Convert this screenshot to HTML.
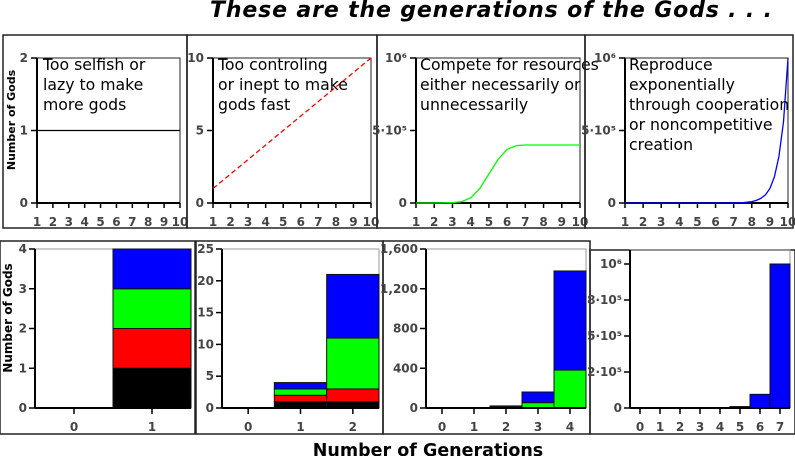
<!DOCTYPE html>
<html><head><meta charset="utf-8"><style>
html,body{margin:0;padding:0;background:#fff;}
svg{display:block;font-family:"DejaVu Sans","Liberation Sans",sans-serif;}
.tk{font-size:12px;font-weight:bold;fill:#444;}
.ann{font-size:15.7px;fill:#000;}
</style></head><body>
<svg id="c" width="795" height="456" viewBox="0 0 795 456" xmlns="http://www.w3.org/2000/svg">
<text x="210" y="17" font-size="22" font-weight="bold" font-style="italic" textLength="562">These are the generations of the Gods . . .</text>
<text x="428" y="456" font-size="17.5" font-weight="bold" text-anchor="middle">Number of Generations</text>
<text transform="translate(15,120) rotate(-90)" font-size="11" font-weight="bold" text-anchor="middle">Number of Gods</text>
<text transform="translate(12,318) rotate(-90)" font-size="12" font-weight="bold" text-anchor="middle">Number of Gods</text>
<g id="g"></g>
</svg>
<script>
// ---- top row line chart data ----
const lineX = [1,1.5,2,2.5,3,3.5,4,4.5,5,5.5,6,6.5,7,7.5,8,8.25,8.5,8.75,9,9.25,9.5,9.75,10];
const flatValues = [1,1,1,1,1,1,1,1,1,1,1,1,1,1,1,1,1,1,1,1,1,1,1];
const linearValues = [1,1.5,2,2.5,3,3.5,4,4.5,5,5.5,6,6.5,7,7.5,8,8.25,8.5,8.75,9,9.25,9.5,9.75,10];
const logisticValues = [0,0,0,0.0005,0.002,0.01,0.035,0.1,0.2,0.3,0.37,0.395,0.4,0.4,0.4,0.4,0.4,0.4,0.4,0.4,0.4,0.4,0.4];
const expValues = [0,0,0,0,0,0,0,0,0,0,0,0,0.001,0.003,0.01,0.018,0.032,0.056,0.1,0.18,0.32,0.56,1];
const topXTicks = [1,2,3,4,5,6,7,8,9,10];
// ---- bottom row stacked bar data (series: black, red, green, blue) ----
const cats1 = ['0','1'];
const black1 = [0,1], red1 = [0,1], green1 = [0,1], blue1 = [0,1];
const ticks1 = [0,1,2,3,4];
const cats2 = ['0','1','2'];
const black2 = [0,1,1], red2 = [0,1,2], green2 = [0,1,8], blue2 = [0,1,10];
const ticks2 = [0,5,10,15,20,25];
const cats3 = ['0','1','2','3','4'];
const black3 = [0,0,1,1,1], red3 = [0,0,2,3,4], green3 = [0,0,8,50,377], blue3 = [0,0,10,107,997];
const ticks3 = [0,400,800,1200,1600];
const tickLabels3 = ['0','400','800','1,200','1,600'];
const cats4 = ['0','1','2','3','4','5','6','7'];
const black4 = [0,0,0,0,0,0,0,0], red4 = [0,0,0,0,0,0,0,0], green4 = [0,0,0,0,0,0,0,0], blue4 = [0,0,0,0,0,10000,95000,1000000];
const ticks4 = [0,250000,500000,750000,1000000];
const tickLabels4 = ['0','2·10⁵','5·10⁵','8·10⁵','10⁶'];

const NS='http://www.w3.org/2000/svg';
const G=document.getElementById('g');
function mk(tag,attrs,parent){const e=document.createElementNS(NS,tag);for(const k in attrs)e.setAttribute(k,attrs[k]);(parent||G).appendChild(e);return e;}

function panelBox(x,y,w,h,name){
  const r=mk('rect',{x:x,y:y,width:w,height:h,fill:'none',stroke:'#222','stroke-width':1.5});
  
  
}

// ---- top line panels ----
function linePanel(o){
  panelBox(o.bx,35,o.bw,193,o.name+'-panel');
  const x0=o.px0,x1=o.px1,yb=203,yt=58;
  const sx=v=>x0+(v-1)/9*(x1-x0);
  const sy=v=>yb-v/o.ymax*(yb-yt);
  mk('rect',{x:x0,y:yt,width:x1-x0,height:yb-yt,fill:'none',stroke:'#222','stroke-width':1});
  mk('line',{x1:x0,y1:yt,x2:x0,y2:yb,stroke:'#000','stroke-width':2});
  mk('line',{x1:x0,y1:yb,x2:x1,y2:yb,stroke:'#000','stroke-width':2});
  topXTicks.forEach(t=>{
    mk('line',{x1:sx(t),y1:yb,x2:sx(t),y2:yb+5,stroke:'#000','stroke-width':1.5});
    const tx=mk('text',{x:sx(t),y:226,class:'tk','text-anchor':'middle'});tx.textContent=t;
    
    
  });
  o.yt.forEach((t,i)=>{
    mk('line',{x1:x0-6,y1:sy(t),x2:x0,y2:sy(t),stroke:'#000','stroke-width':1.5});
    const tx=mk('text',{x:x0-9,y:sy(t)+4,class:'tk','text-anchor':'end'});tx.textContent=o.yl[i];
    
    
  });
  const pts=lineX.map((x,i)=>sx(x).toFixed(1)+','+sy(o.vals[i]).toFixed(1)).join(' ');
  const pl=mk('polyline',{points:pts,fill:'none',stroke:o.color,'stroke-width':o.w||1.3,'stroke-dasharray':o.dash||'none','stroke-linejoin':'round'});
  
  
  o.text.forEach((s,i)=>{
    const t=mk('text',{x:o.tx,y:70+i*20,class:'ann'});t.textContent=s;
    
    
  });
}
linePanel({name:'selfish',bx:3,bw:184,px0:37,px1:180,ymax:2,yt:[0,1,2],yl:['0','1','2'],vals:flatValues,color:'#000',text:['Too selfish or','lazy to make','more gods'],tx:43});
linePanel({name:'controlling',bx:187,bw:190,px0:213,px1:371,ymax:10,yt:[0,5,10],yl:['0','5','10'],vals:linearValues,color:'#f00',dash:'5,3',text:['Too controling','or inept to make','gods fast'],tx:218});
linePanel({name:'compete',bx:377,bw:208,px0:416,px1:580,ymax:1,yt:[0,0.5,1],yl:['0','5·10⁵','10⁶'],vals:logisticValues,color:'#0f0',text:['Compete for resources','either necessarily or','unnecessarily'],tx:420});
linePanel({name:'reproduce',bx:585,bw:208,px0:625,px1:788,ymax:1,yt:[0,0.5,1],yl:['0','5·10⁵','10⁶'],vals:expValues,color:'#00f',text:['Reproduce','exponentially','through cooperation','or noncompetitive','creation'],tx:629});

// ---- bottom stacked bar panels ----
function barPanel(o){
  panelBox(o.bx,o.by,o.bw,434-o.by,o.name+'-panel');
  const x0=o.px0,x1=o.px1,yb=408,yt=o.pyt;
  const n=o.cats.length,bw=(x1-x0)/n;
  const sy=v=>yb-v/o.vmax*(yb-o.ymaxPix);
  mk('rect',{x:x0,y:yt,width:x1-x0,height:yb-yt,fill:'none',stroke:'#999','stroke-width':1});
  mk('line',{x1:x0,y1:yt,x2:x0,y2:yb,stroke:'#000','stroke-width':2});
  const series=[[o.s[0],'#000'],[o.s[1],'#f00'],[o.s[2],'#0f0'],[o.s[3],'#00f']];
  o.cats.forEach((c,i)=>{
    let acc=0;
    const bx=x0+i*bw;
    series.forEach(([arr,col],k)=>{
      const v=arr[i];if(v<=0)return;
      const r=mk('rect',{x:bx,y:sy(acc+v),width:bw,height:sy(acc)-sy(acc+v),fill:col,stroke:'#111','stroke-width':1});
      
      
      acc+=v;
    });
    mk('line',{x1:bx+bw/2,y1:yb,x2:bx+bw/2,y2:yb+6,stroke:'#000','stroke-width':1.5});
    const t=mk('text',{x:bx+bw/2,y:431,class:'tk','text-anchor':'middle'});t.textContent=c;
    
    
  });
  mk('line',{x1:x0,y1:yb,x2:x1,y2:yb,stroke:'#000','stroke-width':2});
  o.ticks.forEach((t,i)=>{
    mk('line',{x1:x0-6,y1:sy(t),x2:x0,y2:sy(t),stroke:'#000','stroke-width':1.5});
    const tx=mk('text',{x:x0-8,y:sy(t)+4,class:'tk','text-anchor':'end'});tx.textContent=o.labels?o.labels[i]:t;
    
    
  });
}
barPanel({name:'gen1',bx:0,by:241,bw:195,px0:35,px1:191,pyt:249,ymaxPix:249,vmax:4,cats:cats1,s:[black1,red1,green1,blue1],ticks:ticks1});
barPanel({name:'gen2',bx:196,by:241,bw:187,px0:222,px1:379,pyt:249,ymaxPix:249,vmax:25,cats:cats2,s:[black2,red2,green2,blue2],ticks:ticks2});
barPanel({name:'gen4',bx:383,by:241,bw:207,px0:426,px1:586,pyt:249,ymaxPix:249,vmax:1600,cats:cats3,s:[black3,red3,green3,blue3],ticks:ticks3,labels:tickLabels3});
barPanel({name:'gen7',bx:590,by:250,bw:205,px0:630,px1:790,pyt:250,ymaxPix:264,vmax:1000000,cats:cats4,s:[black4,red4,green4,blue4],ticks:ticks4,labels:tickLabels4});
</script>
</body></html>
